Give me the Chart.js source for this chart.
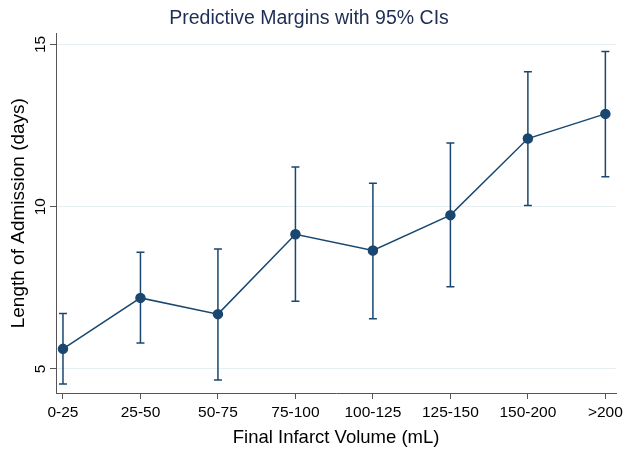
<!DOCTYPE html>
<html>
<head>
<meta charset="utf-8">
<script src="https://cdn.jsdelivr.net/npm/chart.js@4.4.1/dist/chart.umd.min.js"></script>
<style>
html, body { margin: 0; padding: 0; background: #fff; }
</style>
</head>
<body>
<canvas id="chart" width="627" height="450"></canvas>
<script>
// Chart data
const categories = ['0-25', '25-50', '50-75', '75-100', '100-125', '125-150', '150-200', '>200'];
const margins = [5.62, 7.19, 6.69, 9.15, 8.65, 9.74, 12.10, 12.86];
const ciLower = [4.54, 5.80, 4.66, 7.09, 6.55, 7.53, 10.04, 10.92];
const ciUpper = [6.71, 8.60, 8.70, 11.22, 10.72, 11.96, 14.16, 14.78];
const yTicks = [5, 10, 15];

const navy = '#1a476f';
const axisColor = '#555555';
const gridColor = '#e6eef2';
const fontFamily = '"Liberation Sans", Arial, Helvetica, sans-serif';

// Error bars (95% CIs) drawn from the scales
const errorBars = {
    id: 'errorBars',
    beforeDatasetsDraw(chart) {
        const ctx = chart.ctx;
        const xs = chart.scales.x;
        const ys = chart.scales.y;
        ctx.save();
        ctx.strokeStyle = navy;
        ctx.lineWidth = 1.5;
        categories.forEach((c, i) => {
            const x = xs.getPixelForValue(i);
            const yLo = ys.getPixelForValue(ciLower[i]);
            const yHi = ys.getPixelForValue(ciUpper[i]);
            ctx.beginPath();
            ctx.moveTo(x, yLo);
            ctx.lineTo(x, yHi);
            ctx.moveTo(x - 4, yLo);
            ctx.lineTo(x + 4, yLo);
            ctx.moveTo(x - 4, yHi);
            ctx.lineTo(x + 4, yHi);
            ctx.stroke();
        });
        ctx.restore();
    }
};

// Rotated y tick labels (Stata style)
const yTickLabels = {
    id: 'yTickLabels',
    afterDraw(chart) {
        const ctx = chart.ctx;
        const ys = chart.scales.y;
        ctx.save();
        ctx.fillStyle = '#000';
        ctx.font = '15.5px ' + fontFamily;
        ctx.textAlign = 'center';
        ctx.textBaseline = 'middle';
        yTicks.forEach(v => {
            const y = ys.getPixelForValue(v);
            ctx.save();
            ctx.translate(ys.right - 15, y);
            ctx.rotate(-Math.PI / 2);
            ctx.fillText(String(v), 0, 0);
            ctx.restore();
        });
        ctx.restore();
    }
};

new Chart(document.getElementById('chart'), {
    type: 'line',
    data: {
        datasets: [{
            label: 'Margin',
            data: margins.map((m, i) => ({ x: i, y: m })),
            borderColor: navy,
            backgroundColor: navy,
            borderWidth: 1.5,
            pointRadius: 4.5,
            pointBackgroundColor: navy,
            pointBorderColor: navy,
            tension: 0
        }]
    },
    options: {
        responsive: false,
        animation: false,
        layout: { padding: { left: 0, right: 9, top: 0, bottom: 0 } },
        plugins: {
            legend: { display: false },
            tooltip: { enabled: false },
            title: {
                display: true,
                text: 'Predictive Margins with 95% CIs',
                color: '#1e2d53',
                font: { family: fontFamily, size: 19.5, weight: 'normal' },
                padding: { top: 7, bottom: 3 }
            }
        },
        scales: {
            x: {
                type: 'linear',
                min: -0.09,
                max: 7.14,
                afterBuildTicks: scale => {
                    scale.ticks = categories.map((c, i) => ({ value: i }));
                },
                afterFit: scale => { scale.height = 57; },
                ticks: {
                    color: '#000',
                    font: { family: fontFamily, size: 15.5 },
                    padding: 4,
                    maxRotation: 0,
                    autoSkip: false,
                    callback: v => categories[v]
                },
                grid: {
                    drawOnChartArea: false,
                    tickLength: 6,
                    tickColor: axisColor
                },
                border: { color: axisColor, width: 1 },
                title: {
                    display: true,
                    text: 'Final Infarct Volume (mL)',
                    color: '#000',
                    font: { family: fontFamily, size: 18.5 },
                    padding: { top: 0, bottom: 1 }
                }
            },
            y: {
                type: 'linear',
                min: 4.26,
                max: 15.34,
                afterBuildTicks: scale => {
                    scale.ticks = yTicks.map(v => ({ value: v }));
                },
                afterFit: scale => { scale.width = 56; },
                ticks: { display: false },
                grid: {
                    color: gridColor,
                    lineWidth: 1,
                    tickLength: 6,
                    tickColor: axisColor
                },
                border: { color: axisColor, width: 1 },
                title: {
                    display: true,
                    text: 'Length of Admission (days)',
                    color: '#000',
                    font: { family: fontFamily, size: 19 },
                    padding: { top: 7, bottom: 0 }
                }
            }
        }
    },
    plugins: [errorBars, yTickLabels]
});
</script>
</body>
</html>
